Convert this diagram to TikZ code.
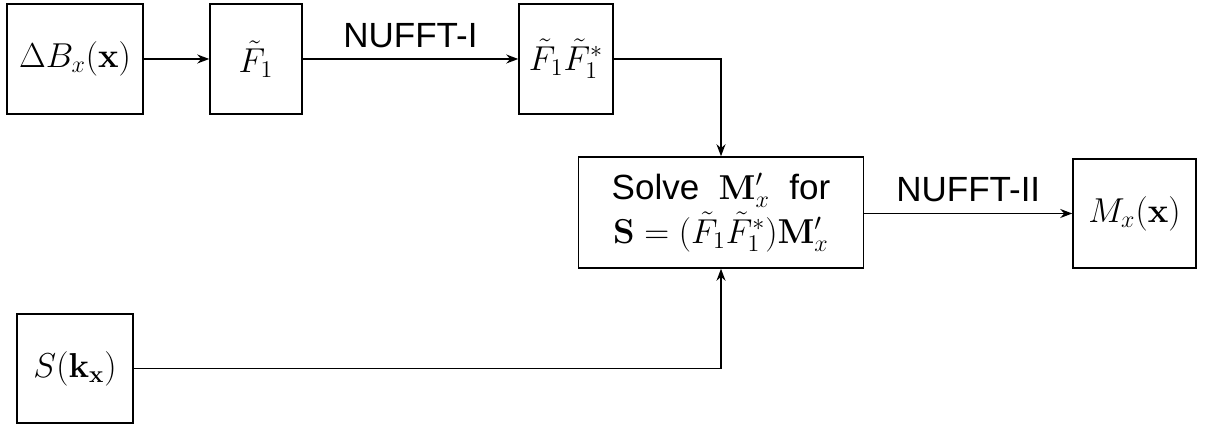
\documentclass[tikz,border=0pt]{standalone}
\usepackage[no-math]{fontspec}
\setmainfont{Liberation Sans}
\usetikzlibrary{arrows.meta}
\begin{document}
\begin{tikzpicture}[x=0.5pt,y=-0.5pt,
  blk/.style={draw,line width=0.75pt,inner sep=0pt,font=\fontsize{17.5}{22}\selectfont,align=center},
  conn/.style={line width=0.75pt,-{Stealth[length=6pt,width=4.5pt]}},
  lbl/.style={font=\fontsize{17.5}{21}\selectfont}]
\useasboundingbox (0,0) rectangle (1205,426);
\node[blk,minimum width=68pt,minimum height=55pt] (A) at (75,59) {$\Delta B_x(\mathbf{x})$};
\node[blk,minimum width=46pt,minimum height=55pt] (B) at (256,59) {$\tilde F_1$};
\node[blk,minimum width=47pt,minimum height=55pt] (C) at (566,59) {$\tilde F_1\tilde F_1^*$};
\node[blk,minimum width=142.5pt,minimum height=55.5pt] (D) at (721,212.5) {Solve \ $\mathbf{M}'_x$ \ for\\$\mathbf{S}=(\tilde F_1\tilde F_1^*)\mathbf{M}'_x$};
\node[blk,minimum width=61.5pt,minimum height=54.5pt] (E) at (1134.5,213.5) {$M_x(\mathbf{x})$};
\node[blk,minimum width=58pt,minimum height=54.5pt] (F) at (75,368.5) {$S(\mathbf{k}_{\mathbf{x}})$};
\draw[conn] (A) -- (B);
\draw[conn] (B) -- node[lbl,above=2pt] (l1) {NUFFT-I} (C);
\draw[conn] (C.east) -| (D.north);
\draw[conn] (D.east |- E.west) -- node[lbl,above=2pt] (l2) {NUFFT-II} (E.west);
\draw[conn] (F.east) -| (D.south);
\end{tikzpicture}
\end{document}
